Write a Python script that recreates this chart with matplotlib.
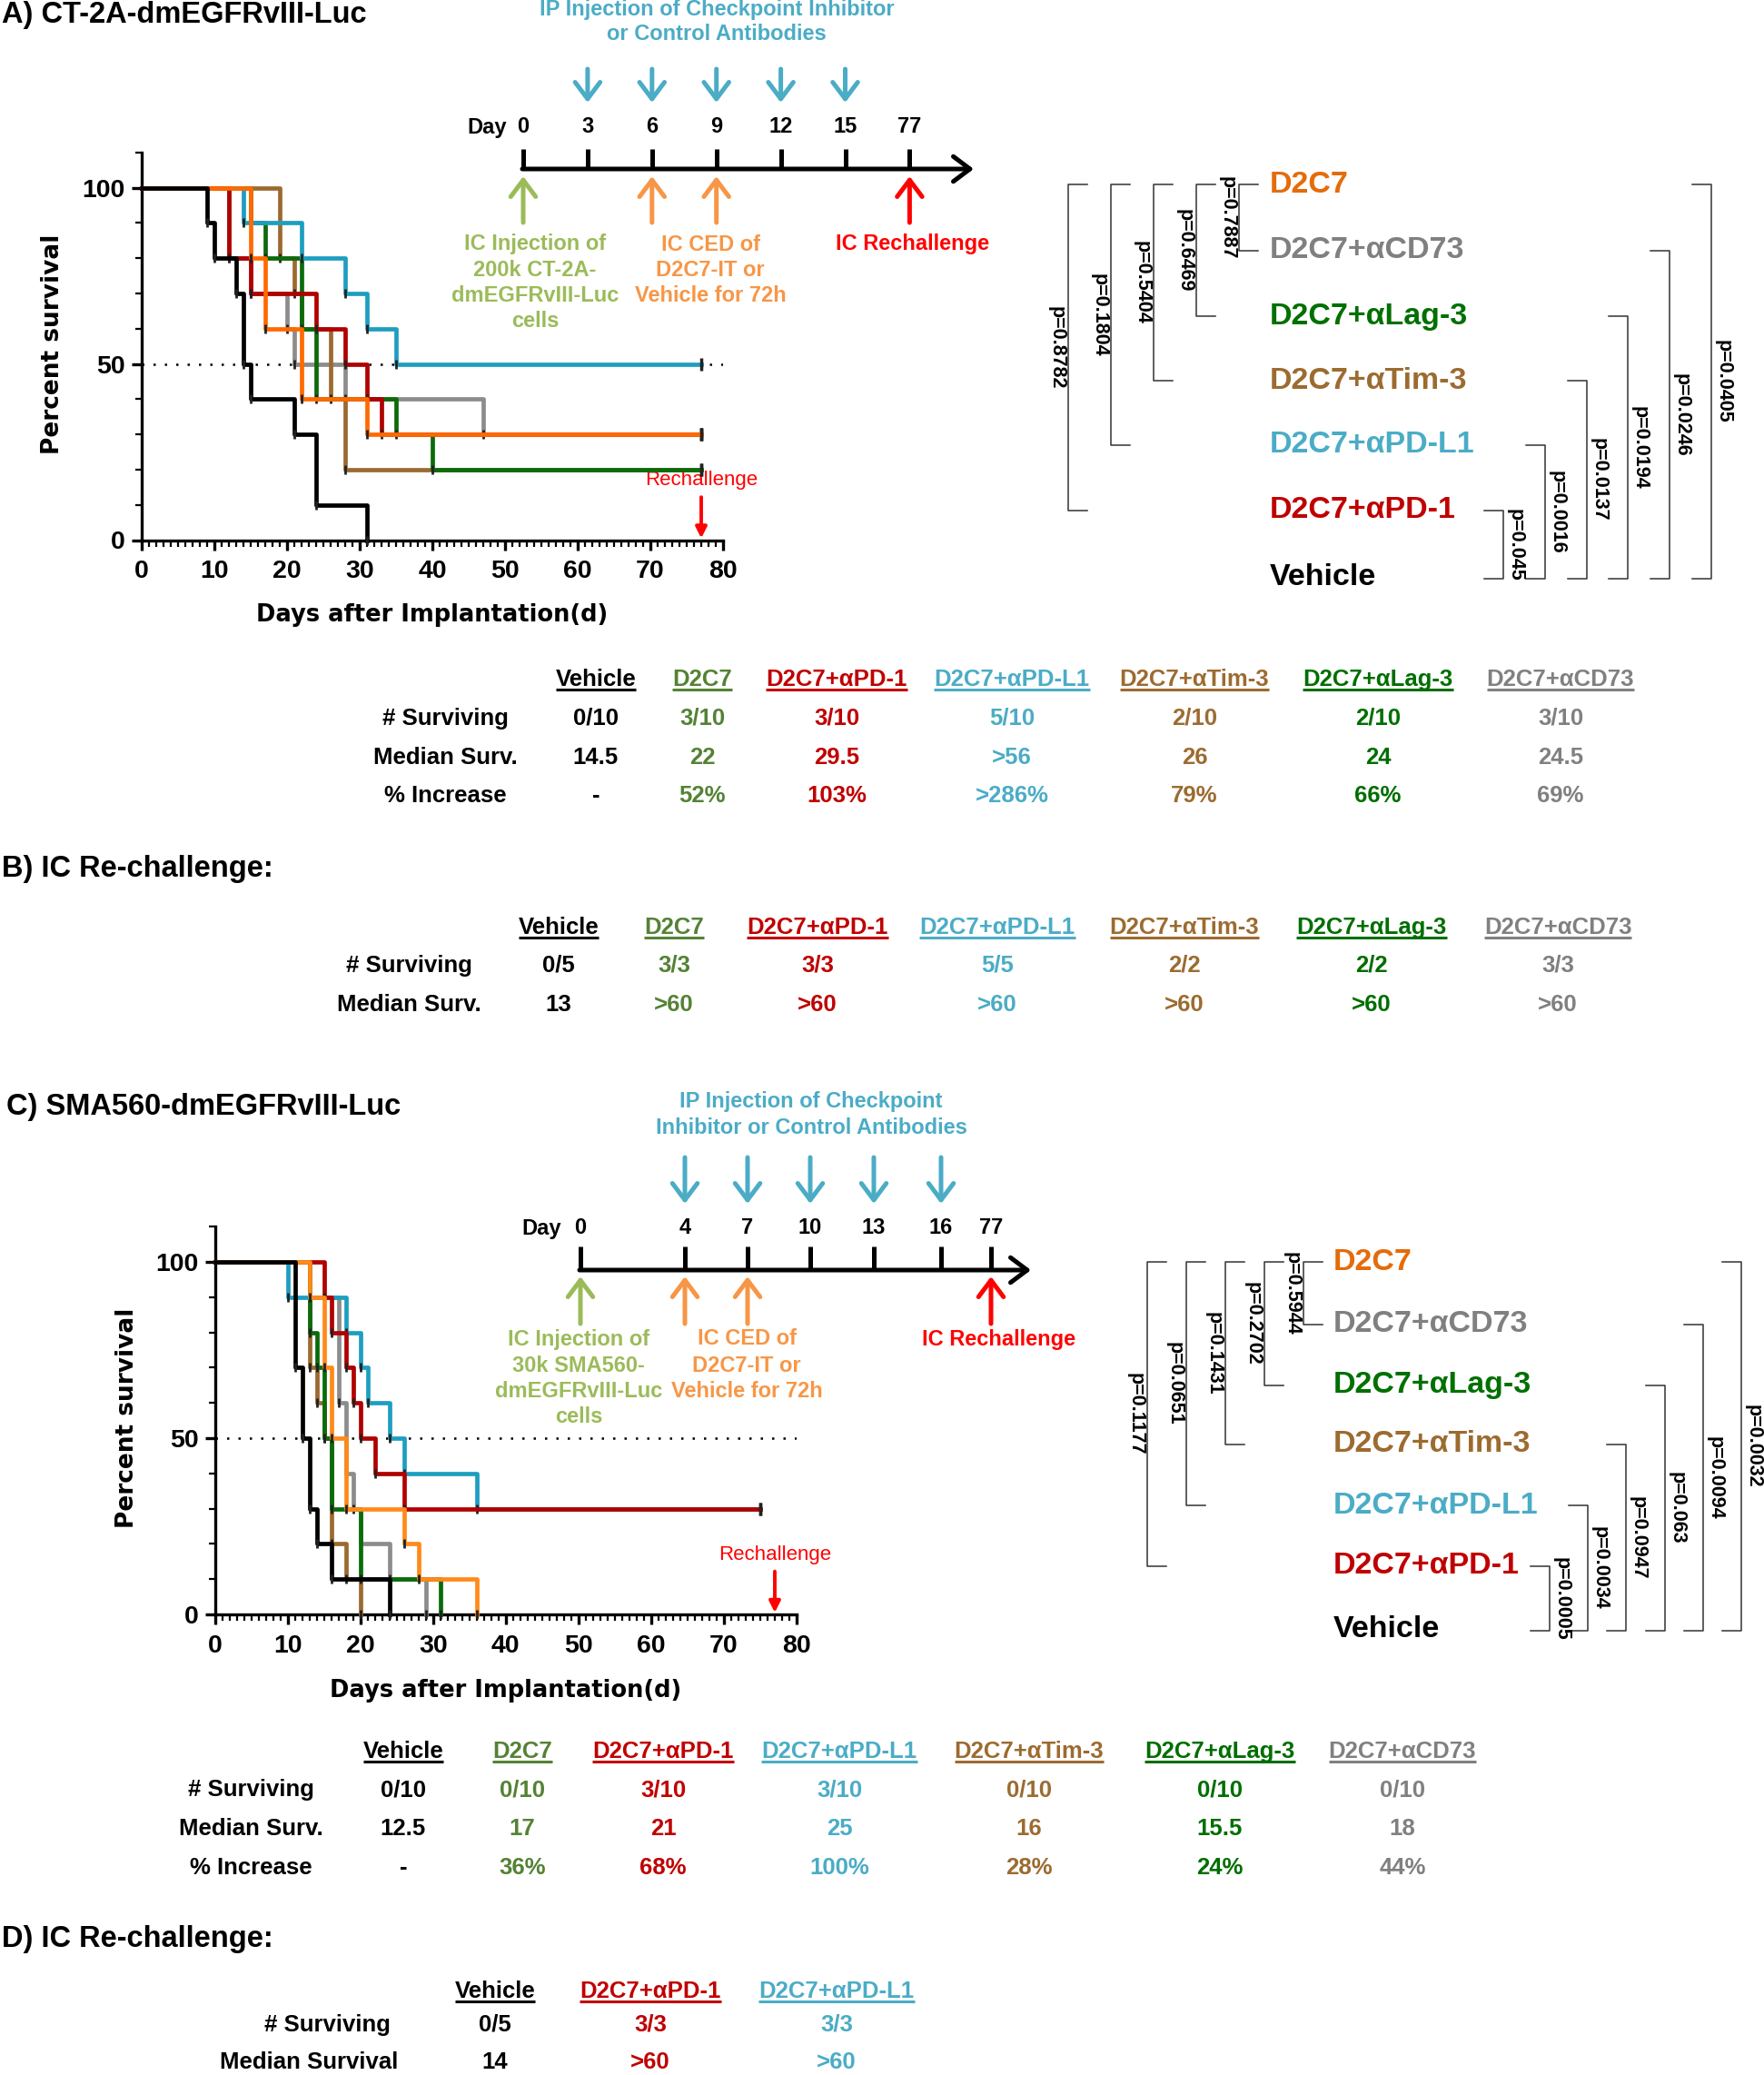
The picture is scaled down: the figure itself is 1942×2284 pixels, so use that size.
import matplotlib
matplotlib.use("Agg")
import matplotlib.pyplot as plt
from matplotlib.patches import FancyArrowPatch
from matplotlib.ticker import MultipleLocator

W, H = 1942, 2284
SANS = "Liberation Sans"

# ---------------- data ----------------
GROUPS = ["Vehicle", "D2C7", "D2C7+αPD-1", "D2C7+αPD-L1", "D2C7+αTim-3", "D2C7+αLag-3", "D2C7+αCD73"]

# panel A (CT-2A) kaplan-meier steps: day of event, % surviving after it
a_vehicle_days = [9, 10, 13, 14, 15, 21, 24, 31]
a_vehicle_surv = [90, 80, 70, 50, 40, 30, 10, 0]
a_d2c7_days = [15, 17, 22, 31]
a_d2c7_surv = [80, 60, 40, 30]
a_pd1_days = [12, 15, 24, 28, 31, 33]
a_pd1_surv = [80, 70, 60, 50, 40, 30]
a_pdl1_days = [14, 22, 28, 31, 35]
a_pdl1_surv = [90, 80, 70, 60, 50]
a_tim3_days = [19, 21, 22, 26, 28]
a_tim3_surv = [80, 70, 60, 40, 20]
a_lag3_days = [15, 17, 22, 24, 35, 40]
a_lag3_surv = [90, 80, 60, 40, 30, 20]
a_cd73_days = [12, 15, 20, 21, 28, 47]
a_cd73_surv = [80, 70, 60, 50, 40, 30]
a_end_day = 77

# panel C (SMA560)
c_vehicle_days = [11, 12, 13, 14, 16, 24]
c_vehicle_surv = [70, 50, 30, 20, 10, 0]
c_d2c7_days = [13, 15, 16, 18, 26, 28, 36]
c_d2c7_surv = [90, 70, 50, 30, 20, 10, 0]
c_pd1_days = [15, 16, 18, 19, 20, 22, 26]
c_pd1_surv = [90, 80, 70, 60, 50, 40, 30]
c_pdl1_days = [10, 18, 20, 21, 24, 26, 36]
c_pdl1_surv = [90, 80, 70, 60, 50, 40, 30]
c_tim3_days = [13, 14, 15, 16, 18, 20]
c_tim3_surv = [70, 60, 50, 20, 10, 0]
c_lag3_days = [13, 14, 15, 16, 20, 31]
c_lag3_surv = [80, 70, 50, 30, 10, 0]
c_cd73_days = [13, 17, 18, 19, 20, 24, 29]
c_cd73_surv = [90, 60, 40, 30, 20, 10, 0]
c_end_day = 75

# timelines
a_tl_days = ["0", "3", "6", "9", "12", "15", "77"]
c_tl_days = ["0", "4", "7", "10", "13", "16", "77"]

# tables
a_surviving = ["0/10", "3/10", "3/10", "5/10", "2/10", "2/10", "3/10"]
a_median = ["14.5", "22", "29.5", ">56", "26", "24", "24.5"]
a_increase = ["-", "52%", "103%", ">286%", "79%", "66%", "69%"]
b_surviving = ["0/5", "3/3", "3/3", "5/5", "2/2", "2/2", "3/3"]
b_median = ["13", ">60", ">60", ">60", ">60", ">60", ">60"]
c_surviving = ["0/10", "0/10", "3/10", "3/10", "0/10", "0/10", "0/10"]
c_median = ["12.5", "17", "21", "25", "16", "15.5", "18"]
c_increase = ["-", "36%", "68%", "100%", "28%", "24%", "44%"]
d_groups = ["Vehicle", "D2C7+αPD-1", "D2C7+αPD-L1"]
d_surviving = ["0/5", "3/3", "3/3"]
d_median = ["14", ">60", ">60"]

# log-rank p values (bracket labels, top to bottom order below)
bracket_names = ["D2C7", "D2C7+αCD73", "D2C7+αLag-3", "D2C7+αTim-3", "D2C7+αPD-L1", "D2C7+αPD-1", "Vehicle"]
a_p_d2c7 = ["p=0.7887", "p=0.6469", "p=0.5404", "p=0.1804", "p=0.8782"]
a_p_vehicle = ["p=0.045", "p=0.0016", "p=0.0137", "p=0.0194", "p=0.0246", "p=0.0405"]
c_p_d2c7 = ["p=0.5944", "p=0.2702", "p=0.1431", "p=0.0651", "p=0.1177"]
c_p_vehicle = ["p=0.0005", "p=0.0034", "p=0.0947", "p=0.063", "p=0.0094", "p=0.0032"]

# colours
km_colors = ["#000000", "#FF6A00", "#B00000", "#1E9EC0", "#9B6A2F", "#0B6B0B", "#8C8C8C"]
tab_colors = ["#000000", "#548235", "#C00000", "#4BACC6", "#9C6B30", "#006E00", "#808080"]
name_colors = ["#E46C0A", "#808080", "#007000", "#9C6B30", "#4BACC6", "#C00000", "#000000"]
GREEN, ORANGE, BLUE, RED = "#9BBB59", "#F79646", "#4BACC6", "#FF0000"

fig = plt.figure(figsize=(W / 100, H / 100), dpi=100)
ov = fig.add_axes([0, 0, 1, 1])
ov.set_xlim(0, W)
ov.set_ylim(H, 0)
ov.axis("off")


def txt(x, y, s, size, color="black", weight="bold", ha="center", va="center", rot=0, family=SANS):
    return ov.text(x, y, s, fontsize=size, color=color, fontweight=weight, ha=ha, va=va,
                   rotation=rot, family=family)


def arrow(x, y1, y2, color):
    ov.add_patch(FancyArrowPatch((x, y1), (x, y2), arrowstyle="->,head_length=0.6,head_width=0.45",
                                 mutation_scale=22, lw=3.6, color=color, shrinkA=0, shrinkB=0))


def km_panel(x0, x80, y0, y110, curves, colors, end_day):
    ax = fig.add_axes([x0 / W, 1 - y0 / H, (x80 - x0) / W, (y0 - y110) / H])
    ax.patch.set_alpha(0)
    ax.set_xlim(0, 80)
    ax.set_ylim(0, 110)
    for s in ["top", "right"]:
        ax.spines[s].set_visible(False)
    for s in ["left", "bottom"]:
        ax.spines[s].set_linewidth(2.4)
    ax.set_xticks(range(0, 81, 10))
    ax.set_yticks([0, 50, 100])
    ax.xaxis.set_minor_locator(MultipleLocator(1))
    ax.yaxis.set_minor_locator(MultipleLocator(10))
    ax.tick_params(which="major", length=8, width=2.4, labelsize=20.5)
    ax.tick_params(which="minor", length=5, width=1.6)
    ax.tick_params(axis="x", pad=7.5)
    ax.tick_params(axis="y", pad=5)
    for lab in ax.get_xticklabels() + ax.get_yticklabels():
        lab.set_family(SANS)
        lab.set_fontweight("bold")
    ax.plot([0, 80], [50, 50], ls=(0, (1, 4)), color="black", lw=1.8, zorder=1)
    order = [6, 4, 5, 3, 2, 1, 0]
    for z, i in enumerate(order):
        days, surv = curves[i]
        x = [0] + list(days)
        y = [100] + list(surv)
        if surv[-1] > 0:
            x.append(end_day)
            y.append(surv[-1])
        ax.step(x, y, where="post", color=colors[i], lw=3.4, clip_on=False, zorder=3 + z)
        ax.plot(days, surv, ls="none", marker="|", ms=7, mew=2, color="#222222",
                clip_on=False, zorder=3 + z)
        if surv[-1] > 0:
            ax.plot([end_day], [surv[-1]], marker="|", ms=10, mew=2.5, color="#222222", zorder=3 + z)
    ax.text(77, 17, "Rechallenge", color="red", fontsize=16, ha="center", va="center", family=SANS)
    ax.annotate("", xy=(77, 0.5), xytext=(77, 12.2),
                arrowprops=dict(arrowstyle="-|>", color="red", lw=2.8, mutation_scale=18,
                                shrinkA=0, shrinkB=0))
    return ax


def timeline(labels, xs, day_x, y_lab, y_tick, y_axis, x_tip, blue_y, up_y, up_marks):
    txt(day_x, y_lab, "Day", 17)
    for x, d in zip(xs, labels):
        txt(x, y_lab, d, 17)
        ov.plot([x, x], [y_tick, y_axis], color="black", lw=3.6, solid_capstyle="butt")
    ov.add_patch(FancyArrowPatch((xs[0] - 1, y_axis), (x_tip, y_axis),
                                 arrowstyle="->,head_length=0.6,head_width=0.45",
                                 mutation_scale=22, lw=3.6, color="black", shrinkA=0, shrinkB=0))
    for x in xs[1:6]:
        arrow(x, blue_y[0], blue_y[1], BLUE)
    for i, c in up_marks:
        arrow(xs[i], up_y[0], up_y[1], c)


def text_lines(x, ys, lines, color, size=17):
    for y, s in zip(ys, lines):
        txt(x, y, s, size, color)


def brackets(ys, label_x, lx0, ldx, rx0, rdx, p_left, p_right):
    for y, s, c in zip(ys, bracket_names, name_colors):
        txt(label_x, y, s, 24.5, c, ha="left")
    for i, p in enumerate(p_left):
        lx = lx0 - ldx * i
        y1, y2 = ys[0], ys[i + 1]
        ov.plot([lx + 21, lx, lx, lx + 21], [y1, y1, y2, y2], color="#333333", lw=1.1)
        txt(lx - 13, (y1 + y2) / 2, p, 15.5, rot=270)
    for i, p in enumerate(p_right):
        rx = rx0 + rdx * i
        y1, y2 = ys[5 - i], ys[6] + 2
        ov.plot([rx - 21, rx, rx, rx - 21], [y1, y1, y2, y2], color="#333333", lw=1.1)
        txt(rx + 13, (y1 + y2) / 2, p, 15.5, rot=270)


underlines = []


def table(xs, y_head, names, colors, row_labels, label_xs, row_ys, rows):
    for x, s, c in zip(xs, names, colors):
        underlines.append((txt(x, y_head, s, 18.5, c), c))
    for lab, lx, y, vals in zip(row_labels, label_xs, row_ys, rows):
        txt(lx, y, lab, 18.5)
        for x, v, c in zip(xs, vals, colors):
            txt(x, y, v, 18.5, c)


# ---------------- panel A ----------------
txt(2, 17, "A) CT-2A-dmEGFRvIII-Luc", 23.5, ha="left")
a_curves = [(a_vehicle_days, a_vehicle_surv), (a_d2c7_days, a_d2c7_surv), (a_pd1_days, a_pd1_surv),
            (a_pdl1_days, a_pdl1_surv), (a_tim3_days, a_tim3_surv), (a_lag3_days, a_lag3_surv),
            (a_cd73_days, a_cd73_surv)]
km_panel(156, 796, 594.5, 167.9, a_curves, km_colors, a_end_day)
txt(58, 379, "Percent survival", 19, rot=90, family="DejaVu Sans")
txt(476, 677, "Days after Implantation(d)", 18.5, family="DejaVu Sans")

a_xs = [576 + 70.9 * i for i in range(7)]
timeline(a_tl_days, a_xs, 536, 140, 164, 186, 1072, (76, 113), (245, 194),
         [(0, GREEN), (2, ORANGE), (3, ORANGE), (6, RED)])
text_lines(789, [10, 38], ["IP Injection of Checkpoint Inhibitor", "or Control Antibodies"], BLUE)
text_lines(589, [269, 297, 326, 354], ["IC Injection of", "200k CT-2A-", "dmEGFRvIII-Luc", "cells"], GREEN)
text_lines(782, [269, 297, 326], ["IC CED of", "D2C7-IT or", "Vehicle for 72h"], ORANGE)
text_lines(1005, [269], ["IC Rechallenge"], RED)

brackets([203, 276, 348, 419, 490, 562, 635], 1398, 1364, 47, 1655, 45.8, a_p_d2c7, a_p_vehicle)

table([656, 773, 921, 1114, 1315, 1517, 1718], 748, GROUPS, tab_colors,
      ["# Surviving", "Median Surv.", "% Increase"], [490] * 3, [791, 834, 876],
      [a_surviving, a_median, a_increase])

# ---------------- panel B ----------------
txt(2, 957, "B) IC Re-challenge:", 23.5, ha="left")
table([615, 742, 900, 1098, 1304, 1510, 1715], 1021, GROUPS, tab_colors,
      ["# Surviving", "Median Surv."], [450] * 2, [1063, 1106], [b_surviving, b_median])

# ---------------- panel C ----------------
txt(7, 1219, "C) SMA560-dmEGFRvIII-Luc", 23.5, ha="left")
c_colors = list(km_colors)
c_colors[1] = "#FF8A1A"
c_curves = [(c_vehicle_days, c_vehicle_surv), (c_d2c7_days, c_d2c7_surv), (c_pd1_days, c_pd1_surv),
            (c_pdl1_days, c_pdl1_surv), (c_tim3_days, c_tim3_surv), (c_lag3_days, c_lag3_surv),
            (c_cd73_days, c_cd73_surv)]
km_panel(236.5, 877, 1777, 1350.2, c_curves, c_colors, c_end_day)
txt(140, 1561, "Percent survival", 19, rot=90, family="DejaVu Sans")
txt(557, 1861, "Days after Implantation(d)", 18.5, family="DejaVu Sans")

c_xs = [639, 754, 823, 892, 962, 1036, 1091]
timeline(c_tl_days, c_xs, 596, 1352, 1372, 1398, 1135, (1274, 1325), (1457, 1405),
         [(0, GREEN), (1, ORANGE), (2, ORANGE), (6, RED)])
text_lines(893, [1212, 1241], ["IP Injection of Checkpoint", "Inhibitor or Control Antibodies"], BLUE)
text_lines(637, [1474, 1503, 1532, 1560], ["IC Injection of", "30k SMA560-", "dmEGFRvIII-Luc", "cells"], GREEN)
text_lines(822, [1474, 1503, 1532], ["IC CED of", "D2C7-IT or", "Vehicle for 72h"], ORANGE)
text_lines(1100, [1474], ["IC Rechallenge"], RED)

brackets([1389, 1458, 1525, 1590, 1657, 1724, 1793], 1468, 1435, 43, 1706, 42.2, c_p_d2c7, c_p_vehicle)

table([444, 575, 730, 924, 1133, 1343, 1544], 1928, GROUPS, tab_colors,
      ["# Surviving", "Median Surv.", "% Increase"], [276] * 3, [1970, 2013, 2056],
      [c_surviving, c_median, c_increase])

# ---------------- panel D ----------------
txt(2, 2135, "D) IC Re-challenge:", 23.5, ha="left")
table([545, 716, 921], 2192, d_groups, [tab_colors[0], tab_colors[2], tab_colors[3]],
      ["# Surviving", "Median Survival"], [360, 340], [2229, 2270], [d_surviving, d_median])

# underline the table headers
fig.canvas.draw()
renderer = fig.canvas.get_renderer()
for t, c in underlines:
    bb = t.get_window_extent(renderer)
    yy = H - bb.y0 - 1
    ov.plot([bb.x0, bb.x1], [yy, yy], color=c, lw=2.2, solid_capstyle="butt")

fig.savefig("out.png", dpi=100)
